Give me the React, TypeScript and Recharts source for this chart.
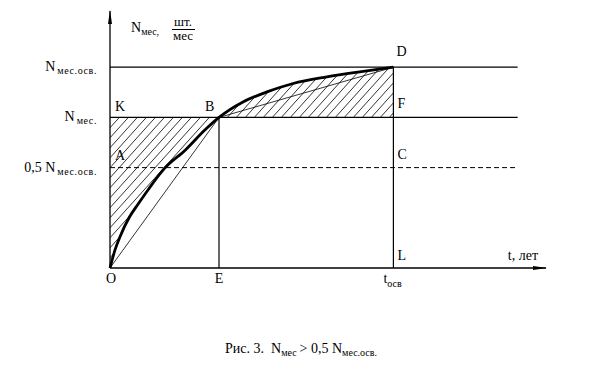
import React from "react";
import { ComposedChart, XAxis, YAxis, Line, Area, Scatter, ReferenceLine } from "recharts";

// кривая освоения N(t): O -> B -> D
const curveX = [0, 0.046, 0.092, 0.18, 0.26, 0.35, 0.5, 0.69, 0.87, 1, 1.22, 1.44, 1.68, 1.99, 2.29, 2.6];
const curveY = [0, 0.09, 0.156, 0.255, 0.32, 0.39, 0.496, 0.587, 0.687, 0.75, 0.827, 0.877, 0.919, 0.952, 0.977, 1];

const N_OSV = 1;
const N_MES = 0.75;
const HALF = 0.5;
const T_E = 1;
const T_OSV = 2.6;
const X_END = 4;
const LINE_END = 3.74;
const Y_TOP = 1.28;

// подписи точек
const pointNames = ["K", "B", "D", "F", "A", "C", "L", "O", "E"];
const pointX = [0, T_E, T_OSV, T_OSV, 0, T_OSV, T_OSV, 0, T_E];
const pointY = [N_MES, N_MES, N_OSV, N_MES, HALF, HALF, 0, 0, 0];

// подписи уровней слева
const levelValues = [N_OSV, N_MES, HALF];
const levelPrefix = ["N", "N", "0,5 N"];
const levelSub = ["мес.осв.", "мес.", "мес.осв."];

const offsets: Record<string, [number, number, string]> = {
  K: [5, -6, "start"],
  B: [-14, -6, "start"],
  D: [3, -11, "start"],
  F: [4, -9, "start"],
  A: [5, -8, "start"],
  C: [4, -9, "start"],
  L: [4, -8, "start"],
  O: [1, 15, "middle"],
  E: [0, 15, "middle"],
};

const FONT = "'Liberation Serif', 'Times New Roman', serif";

const curve = curveX.map((x, i) => ({ x, y: curveY[i] }));
const leftHatch = curve.filter((p) => p.x <= T_E).map((p) => ({ x: p.x, r: [p.y, N_MES] }));
const topHatch = curve.filter((p) => p.x >= T_E).map((p) => ({ x: p.x, r: [N_MES, p.y] }));
const points = pointNames.map((name, i) => ({ name, x: pointX[i], y: pointY[i] }));
const levels = levelValues.map((v, i) => ({ x: 0, y: v, pre: levelPrefix[i], sub: levelSub[i] }));
const extra = [
  { x: T_OSV, y: 0, kind: "tosv" },
  { x: 3.65, y: 0, kind: "t" },
];

const seg = (x1: number, y1: number, x2: number, y2: number) => [{ x: x1, y: y1 }, { x: x2, y: y2 }];

const ArrowLine = (p: any) => (
  <line x1={p.x1} y1={p.y1} x2={p.x2} y2={p.y2} stroke="#000" strokeWidth={1.3} markerEnd="url(#arr)" />
);

const PointLabel = (p: any) => {
  const [dx, dy, anchor] = offsets[p.payload.name];
  return (
    <text x={p.cx + dx} y={p.cy + dy} textAnchor={anchor} fontFamily={FONT} fontSize={14} fill="#000">
      {p.payload.name}
    </text>
  );
};

const LevelLabel = (p: any) => (
  <text x={p.cx - 13} y={p.cy + 4} textAnchor="end" fontFamily={FONT} fontSize={14} fill="#000">
    <tspan>{p.payload.pre}</tspan>
    <tspan fontSize={10} dx={2} dy={3} letterSpacing={0.6}>{p.payload.sub}</tspan>
  </text>
);

const ExtraLabel = (p: any) =>
  p.payload.kind === "tosv" ? (
    <text x={p.cx - 10} y={p.cy + 15} fontFamily={FONT} fontSize={14} fill="#000">
      <tspan>t</tspan>
      <tspan fontSize={10} dy={4}>осв</tspan>
    </text>
  ) : (
    <text x={p.cx} y={p.cy - 8} fontFamily={FONT} fontSize={14} fill="#000">t, лет</text>
  );

export default function App() {
  return (
    <div style={{ position: "absolute", left: 0, top: 0, width: 590, height: 376, background: "#fff" }}>
      <ComposedChart width={590} height={376} margin={{ top: 11, right: 44, bottom: 108, left: 110 }}>
        <defs>
          <pattern id="hatch" patternUnits="userSpaceOnUse" width={9} height={10}>
            <path d="M-0.9,1 L0.9,-1 M0,10 L9,0 M8.1,11 L9.9,9" stroke="#000" strokeWidth={0.8} />
          </pattern>
          <marker id="arr" markerWidth={14} markerHeight={6} refX={13} refY={3} orient="auto" markerUnits="userSpaceOnUse">
            <path d="M0,1 L14,3 L0,5 z" fill="#000" />
          </marker>
        </defs>
        <XAxis type="number" dataKey="x" domain={[0, X_END]} hide />
        <YAxis type="number" dataKey="y" domain={[0, Y_TOP]} hide />

        <Area data={leftHatch} dataKey="r" type="monotone" stroke="none" fill="url(#hatch)" fillOpacity={1} isAnimationActive={false} />
        <Area data={topHatch} dataKey="r" type="monotone" stroke="none" fill="url(#hatch)" fillOpacity={1} isAnimationActive={false} />

        <ReferenceLine segment={seg(0, N_OSV, LINE_END, N_OSV)} stroke="#000" strokeWidth={1.2} ifOverflow="visible" />
        <ReferenceLine segment={seg(0, N_MES, LINE_END, N_MES)} stroke="#000" strokeWidth={1.2} ifOverflow="visible" />
        <ReferenceLine segment={seg(0, HALF, LINE_END, HALF)} stroke="#000" strokeWidth={1} strokeDasharray="5 3" ifOverflow="visible" />
        <ReferenceLine segment={seg(T_E, 0, T_E, N_MES)} stroke="#000" strokeWidth={1.2} ifOverflow="visible" />
        <ReferenceLine segment={seg(T_OSV, 0, T_OSV, N_OSV)} stroke="#000" strokeWidth={1.2} ifOverflow="visible" />
        <ReferenceLine segment={seg(0, 0, T_E, N_MES)} stroke="#000" strokeWidth={0.8} ifOverflow="visible" />
        <ReferenceLine segment={seg(T_E, N_MES, T_OSV, N_OSV)} stroke="#000" strokeWidth={0.8} ifOverflow="visible" />
        <ReferenceLine segment={seg(0, 0, 0, Y_TOP)} ifOverflow="visible" shape={ArrowLine} />
        <ReferenceLine segment={seg(0, 0, X_END, 0)} ifOverflow="visible" shape={ArrowLine} />

        <Line data={curve} dataKey="y" type="monotone" stroke="#000" strokeWidth={2.8} dot={false} isAnimationActive={false} />

        <Scatter data={points} dataKey="y" shape={PointLabel} isAnimationActive={false} />
        <Scatter data={levels} dataKey="y" shape={LevelLabel} isAnimationActive={false} />
        <Scatter data={extra} dataKey="y" shape={ExtraLabel} isAnimationActive={false} />
      </ComposedChart>

      <svg width={590} height={376} style={{ position: "absolute", left: 0, top: 0, pointerEvents: "none" }}>
        <text x={131} y={32} fontFamily={FONT} fontSize={14} fill="#000">
          <tspan>N</tspan>
          <tspan fontSize={10} dy={3}>мес,</tspan>
        </text>
        <text x={183} y={26} textAnchor="middle" fontFamily={FONT} fontSize={13} fill="#000">шт.</text>
        <line x1={172} y1={29.5} x2={195} y2={29.5} stroke="#000" strokeWidth={1} />
        <text x={183} y={40} textAnchor="middle" fontFamily={FONT} fontSize={13} fill="#000">мес</text>

        <text x={225} y={353} fontFamily={FONT} fontSize={14} fill="#000">
          <tspan>Рис. 3.</tspan>
          <tspan dx={7}>N</tspan>
          <tspan fontSize={10} dy={3}>мес</tspan>
          <tspan dx={3} dy={-3}>&gt; 0,5 N</tspan>
          <tspan fontSize={10} dy={3}>мес.осв.</tspan>
        </text>
      </svg>
    </div>
  );
}
